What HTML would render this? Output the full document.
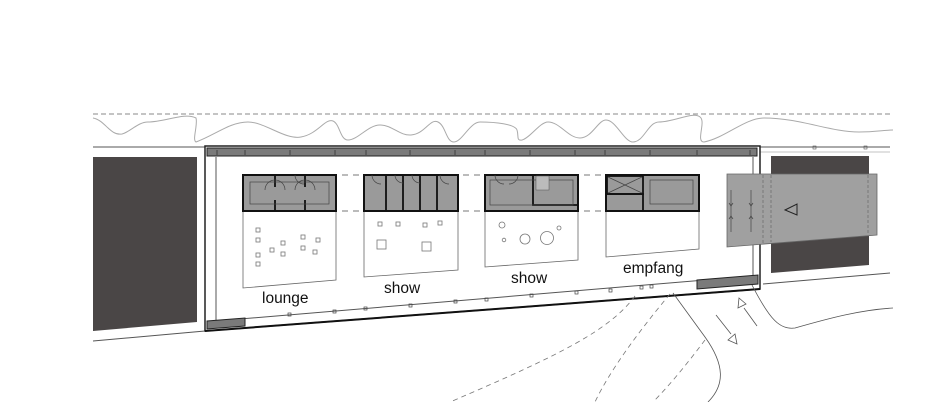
<!DOCTYPE html>
<html><head><meta charset="utf-8"><style>html,body{margin:0;padding:0;background:#fff}svg{display:block}text{font-family:"Liberation Sans",sans-serif;fill:#111}</style></head>
<body>
<svg width="948" height="402" viewBox="0 0 948 402" xmlns="http://www.w3.org/2000/svg">
<line x1="93" y1="114" x2="890" y2="114" stroke="#888" stroke-width="1" stroke-dasharray="5,3"/>
<path d="M93,118 C105,120 110,136 122,134 C130,132 138,122 148,122 C165,122 185,112 196,118 C198,125 192,140 196,142 C215,135 230,122 248,122 C265,122 285,140 301,137 C318,134 325,118 333,121 C340,124 340,140 348,140 C358,140 368,125 380,125 C392,125 400,136 411,135 C425,134 430,118 438,122 C446,126 446,142 454,142 C462,142 470,122 480,122 C495,122 515,124 517,130 C519,136 516,141 522,140 C530,138 540,122 548,122 C560,122 568,138 580,138 C592,138 598,120 606,120 C616,120 624,142 633,142 C644,142 648,122 659,122 C675,122 695,110 701,118 C705,124 696,142 704,142 C725,138 745,118 764,118 C800,118 830,132 859,132 C875,132 885,130 893,130" fill="none" stroke="#aaa" stroke-width="1"/>
<line x1="93" y1="147" x2="205" y2="147" stroke="#555"/>
<line x1="93" y1="341" x2="205" y2="331" stroke="#555"/>
<line x1="760" y1="147" x2="890" y2="147" stroke="#555"/>
<line x1="760" y1="152" x2="890" y2="152" stroke="#888" stroke-width=".6"/>
<line x1="763" y1="284" x2="890" y2="273" stroke="#555"/>
<rect x="813" y="146" width="3" height="3" fill="none" stroke="#555" stroke-width=".6"/>
<rect x="864" y="146" width="3" height="3" fill="none" stroke="#555" stroke-width=".6"/>
<polygon points="93,157 197,157 197,322 93,331" fill="#4a4646"/>
<polygon points="205,146 760,146 760,289 205,331" fill="#fff" stroke="#222" stroke-width="1.5"/>
<rect x="207" y="148" width="550" height="8" fill="#7a7a7a" stroke="#222" stroke-width="1"/>
<line x1="216" y1="157" x2="216" y2="322" stroke="#555" stroke-width="1"/>
<line x1="753" y1="157" x2="753" y2="280" stroke="#555" stroke-width="1"/>
<line x1="216" y1="321" x2="753" y2="276" stroke="#555" stroke-width="1"/>
<polygon points="207,321 245,318 245,326 207,329" fill="#7a7a7a" stroke="#222"/>
<polygon points="697,280 758,275 758,284 697,289" fill="#7a7a7a" stroke="#222"/>
<line x1="205" y1="331" x2="760" y2="289" stroke="#111" stroke-width="2"/>
<g fill="none" stroke="#444" stroke-width=".7">
<rect x="288" y="313" width="3" height="3"/><rect x="333" y="310" width="3" height="3"/><rect x="364" y="307" width="3" height="3"/><rect x="409" y="304" width="3" height="3"/><rect x="454" y="300" width="3" height="3"/><rect x="485" y="298" width="3" height="3"/><rect x="530" y="294" width="3" height="3"/><rect x="575" y="291" width="3" height="3"/><rect x="609" y="289" width="3" height="3"/><rect x="640" y="286" width="3" height="3"/><rect x="650" y="285" width="3" height="3"/>
</g>
<g stroke="#333" stroke-width=".8">
<path d="M217,150v5M245,150v5M290,150v5M335,150v5M366,150v5M410,150v5M455,150v5M485,150v5M530,150v5M575,150v5M605,150v5M650,150v5M697,150v5M750,150v5"/>
</g>
<line x1="243" y1="175" x2="699" y2="175" stroke="#777" stroke-dasharray="6,5"/>
<line x1="243" y1="211" x2="699" y2="211" stroke="#777" stroke-dasharray="6,5"/>
<g fill="#fff" stroke="#666" stroke-width=".8">
<polygon points="243,211 336,211 336,280 243,288"/>
<polygon points="364,211 458,211 458,270 364,277"/>
<polygon points="485,211 578,211 578,260 485,267"/>
<polygon points="606,211 699,211 699,249 606,257"/>
</g>
<g fill="#9a9a9a" stroke="#111" stroke-width="2">
<rect x="243" y="175" width="93" height="36"/>
<rect x="364" y="175" width="94" height="36"/>
<rect x="485" y="175" width="93" height="36"/>
<rect x="606" y="175" width="93" height="36"/>
</g>
<g fill="none" stroke="#111" stroke-width="1.8">
<path d="M275,175v12M275,200v11M305,175v12M305,200v11"/>
<path d="M386,175v36M403,175v36M420,175v36M437,175v36"/>
<path d="M533,175v30h45"/>
<rect x="607" y="176" width="36" height="18"/>
<path d="M606,194h37v17"/>
</g>
<g fill="none" stroke="#444" stroke-width=".7">
<rect x="250" y="182" width="79" height="22"/>
<path d="M265,190a10,10 0 0 1 20,0M295,190a10,10 0 0 1 20,0M295,175a9,9 0 0 0 9,9"/>
<path d="M372,175a9,9 0 0 0 9,9M395,175a8,8 0 0 0 8,8M412,175a8,8 0 0 0 8,8M440,175a9,9 0 0 0 9,9"/>
<rect x="490" y="180" width="83" height="25"/>
<path d="M495,175a9,9 0 0 0 9,9M518,175a9,9 0 0 1 -9,9"/>
<path d="M608,177l34,16M642,177l-34,16"/>
<rect x="650" y="180" width="43" height="24"/>
</g>
<rect x="536" y="176" width="13" height="14" fill="#bbb" stroke="#555" stroke-width=".5"/>
<g fill="none" stroke="#777" stroke-width=".8">
<rect x="256" y="228" width="4" height="4"/><rect x="256" y="238" width="4" height="4"/><rect x="256" y="253" width="4" height="4"/><rect x="256" y="262" width="4" height="4"/><rect x="270" y="248" width="4" height="4"/><rect x="281" y="241" width="4" height="4"/><rect x="281" y="252" width="4" height="4"/><rect x="301" y="235" width="4" height="4"/><rect x="301" y="246" width="4" height="4"/><rect x="316" y="238" width="4" height="4"/><rect x="313" y="250" width="4" height="4"/>
<rect x="378" y="222" width="4" height="4"/><rect x="396" y="222" width="4" height="4"/><rect x="423" y="223" width="4" height="4"/><rect x="438" y="221" width="4" height="4"/><rect x="377" y="240" width="9" height="9"/><rect x="422" y="242" width="9" height="9"/>
<circle cx="502" cy="225" r="3"/><circle cx="504" cy="240" r="1.8"/><circle cx="525" cy="239" r="5"/><circle cx="547" cy="238" r="6.5"/><circle cx="559" cy="228" r="2"/>
</g>
<text x="262" y="303" font-size="15.5">lounge</text>
<text x="384" y="293" font-size="15.5">show</text>
<text x="511" y="283" font-size="15.5">show</text>
<text x="623" y="273" font-size="15.5">empfang</text>
<rect x="771" y="156" width="98" height="20" fill="#4a4646"/>
<polygon points="771,234 869,234 869,265 771,273" fill="#4a4646"/>
<polygon points="727,174 877,174 877,235 727,247" fill="#a0a0a0" stroke="#666" stroke-width=".8"/>
<g stroke="#666" stroke-dasharray="3,2" stroke-width=".7"><line x1="763" y1="175" x2="763" y2="243"/><line x1="771" y1="175" x2="771" y2="242"/><line x1="868" y1="175" x2="868" y2="235"/></g>
<polygon points="785,210 797,204 797,215" fill="none" stroke="#222"/>
<g stroke="#444" stroke-width=".7" fill="none"><line x1="731" y1="190" x2="731" y2="232"/><line x1="751" y1="190" x2="751" y2="232"/>
<path d="M729,203l2,3l2,-3M749,203l2,3l2,-3M729,219l2,-3l2,3M749,219l2,-3l2,3"/></g>
<g fill="none" stroke="#555" stroke-width=".8">
<path d="M673,293 L705,337 C725,365 725,385 708,402"/>
<path d="M752,285 C770,320 780,330 795,328 C830,318 860,310 893,308"/>
<path d="M716,315 L731,334"/>
<path d="M728,340 l9,4 l-2,-10 z"/>
<path d="M757,326 L744,308"/>
<path d="M739,298 l-1,10 l8,-4 z"/>
</g>
<g fill="none" stroke="#777" stroke-width=".8" stroke-dasharray="5,4">
<path d="M635,296 C610,330 560,355 450,402"/>
<path d="M670,294 C640,330 610,370 595,402"/>
<path d="M705,340 C690,360 670,385 653,402"/>
</g>
</svg>
</body></html>
